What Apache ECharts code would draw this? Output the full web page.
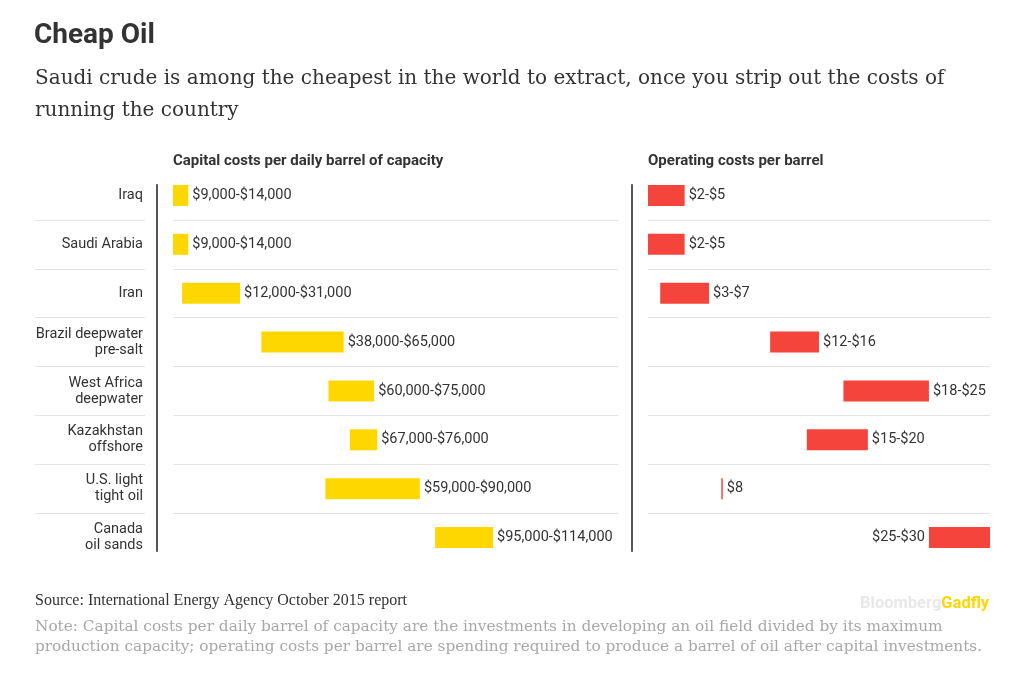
<!DOCTYPE html>
<html>
<head>
<meta charset="utf-8">
<title>Cheap Oil</title>
<script src="https://cdn.jsdelivr.net/npm/echarts@6/dist/echarts.min.js"></script>
<style>
  html, body { margin: 0; padding: 0; background: #fff; }
  #chart { width: 1024px; height: 696px; }
</style>
</head>
<body>
<div id="chart"></div>
<script>
// data
const countries = ['Iraq', 'Saudi Arabia', 'Iran', 'Brazil deepwater\npre-salt', 'West Africa\ndeepwater',
  'Kazakhstan\noffshore', 'U.S. light\ntight oil', 'Canada\noil sands'];
const capLow = [9000, 9000, 12000, 38000, 60000, 67000, 59000, 95000];
const capHigh = [14000, 14000, 31000, 65000, 75000, 76000, 90000, 114000];
const opLow = [2, 2, 3, 12, 18, 15, 8, 25];
const opHigh = [5, 5, 7, 16, 25, 20, 8, 30];

const YELLOW = '#FFD700';
const RED = '#F5443B';
const SANS = 'Roboto, "Noto Sans", sans-serif';
const SERIF = '"DejaVu Serif", "Liberation Serif", serif';
const TIMES = '"Liberation Serif", serif';

function fmt(lo, hi) {
  const a = '$' + lo.toLocaleString('en-US');
  if (lo === hi) return a;
  return a + '-$' + hi.toLocaleString('en-US');
}

const chart = echarts.init(document.getElementById('chart'));

const TOP = 171, H = 391;

// separator-only category axis (no labels)
function sepAxis(grid) {
  return {
    type: 'category', gridIndex: grid, data: countries, inverse: true,
    axisLine: { show: false }, axisTick: { show: false }, axisLabel: { show: false },
    splitLine: { show: true, showMinLine: false, showMaxLine: false, lineStyle: { color: '#e3e3e3', width: 1 } }
  };
}

const option = {
  animation: false,
  backgroundColor: '#fff',
  title: [
    { text: 'Cheap Oil', left: 34, top: 22, padding: 0,
      textStyle: { fontFamily: SANS, fontSize: 28, fontWeight: 'bold', color: '#333' } },
    { text: 'Saudi crude is among the cheapest in the world to extract, once you strip out the costs of\nrunning the country',
      left: 35, top: 63, padding: 0,
      textStyle: { fontFamily: SERIF, fontSize: 20, fontWeight: 'normal', color: '#333', lineHeight: 32 } },
    { text: 'Capital costs per daily barrel of capacity', left: 173, top: 154, padding: 0,
      textStyle: { fontFamily: SANS, fontSize: 15, fontWeight: 'bold', color: '#333' } },
    { text: 'Operating costs per barrel', left: 648, top: 154, padding: 0,
      textStyle: { fontFamily: SANS, fontSize: 15, fontWeight: 'bold', color: '#333' } },
    { text: 'Source: International Energy Agency October 2015 report', left: 35, top: 593, padding: 0,
      textStyle: { fontFamily: TIMES, fontSize: 16, fontWeight: 'normal', color: '#333' } },
    { text: 'Note: Capital costs per daily barrel of capacity are the investments in developing an oil field divided by its maximum\nproduction capacity; operating costs per barrel are spending required to produce a barrel of oil after capital investments.',
      left: 35, top: 617, padding: 0,
      textStyle: { fontFamily: SERIF, fontSize: 15.3, fontWeight: 'normal', color: '#a8a8a8', lineHeight: 20 } },
    { text: '{a|Bloomberg}{b|Gadfly}', left: 860, top: 595, padding: 0,
      textStyle: { rich: {
        a: { fontFamily: SANS, fontSize: 16.5, fontWeight: 'bold', color: '#e8e8e8' },
        b: { fontFamily: SANS, fontSize: 16.5, fontWeight: 'bold', color: YELLOW }
      } } }
  ],
  grid: [
    { left: 173, right: 406, top: TOP, height: H },   // capital costs
    { left: 648, right: 34, top: TOP, height: H },    // operating costs
    { left: 35, right: 879, top: TOP, height: H },    // label-area separators
    { left: 157, width: 10, top: 185, height: 366 },  // left axis line
    { left: 632, width: 10, top: 185, height: 366 }   // right axis line
  ],
  xAxis: [
    { type: 'value', gridIndex: 0, min: 9000, max: 155000, show: false },
    { type: 'value', gridIndex: 1, min: 2, max: 30, show: false },
    { type: 'value', gridIndex: 2, show: false },
    { type: 'value', gridIndex: 3, show: false },
    { type: 'value', gridIndex: 4, show: false }
  ],
  yAxis: [
    Object.assign(sepAxis(0), {
      axisLabel: { show: true, margin: 30, fontFamily: SANS, fontSize: 14.5, color: '#333', lineHeight: 16, align: 'right' }
    }),
    sepAxis(1),
    sepAxis(2),
    { type: 'value', gridIndex: 3, axisLine: { show: true, lineStyle: { color: '#555', width: 2 } },
      axisTick: { show: false }, axisLabel: { show: false }, splitLine: { show: false } },
    { type: 'value', gridIndex: 4, axisLine: { show: true, lineStyle: { color: '#555', width: 2 } },
      axisTick: { show: false }, axisLabel: { show: false }, splitLine: { show: false } }
  ],
  series: [
    {
      name: 'capBase', type: 'bar', xAxisIndex: 0, yAxisIndex: 0, stack: 'cap', silent: true,
      itemStyle: { color: 'transparent' }, barWidth: 21, data: capLow
    },
    {
      name: 'Capital costs', type: 'bar', xAxisIndex: 0, yAxisIndex: 0, stack: 'cap', barWidth: 21,
      itemStyle: { color: YELLOW },
      label: {
        show: true, position: 'right', distance: 4, fontFamily: SANS, fontSize: 14.5, color: '#333',
        formatter: p => fmt(capLow[p.dataIndex], capHigh[p.dataIndex])
      },
      data: capHigh.map((h, i) => h - capLow[i])
    },
    {
      name: 'opBase', type: 'bar', xAxisIndex: 1, yAxisIndex: 1, stack: 'op', silent: true,
      itemStyle: { color: 'transparent' }, barWidth: 21, data: opLow
    },
    {
      name: 'Operating costs', type: 'bar', xAxisIndex: 1, yAxisIndex: 1, stack: 'op', barWidth: 21,
      barMinHeight: 1.5,
      itemStyle: { color: RED },
      label: {
        show: true, position: 'right', distance: 4, fontFamily: SANS, fontSize: 14.5, color: '#333',
        formatter: p => fmt(opLow[p.dataIndex], opHigh[p.dataIndex])
      },
      data: opHigh.map((h, i) => {
        const v = h - opLow[i];
        // last row: label sits left of the bar (bar reaches the panel edge)
        return i === opHigh.length - 1 ? { value: v, label: { position: 'left' } } : v;
      })
    }
  ]
};

chart.setOption(option);
</script>
</body>
</html>
